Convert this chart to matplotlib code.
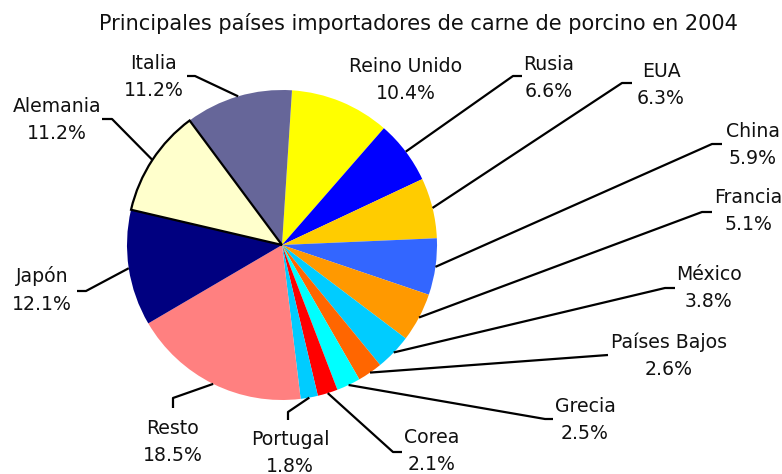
import matplotlib.pyplot as plt
import numpy as np

# Data (clockwise from the top)
paises = ['Reino Unido', 'Rusia', 'EUA', 'China', 'Francia', 'México',
          'Países Bajos', 'Grecia', 'Corea', 'Portugal', 'Resto', 'Japón',
          'Alemania', 'Italia']
porcentajes = [10.4, 6.6, 6.3, 5.9, 5.1, 3.8, 2.6, 2.5, 2.1, 1.8, 18.5, 12.1, 11.2, 11.2]
colores = ['#FFFF00', '#0000FF', '#FFCC00', '#3366FF', '#FF9900', '#00CCFF',
           '#FF6600', '#00FFFF', '#FF0000', '#00CCFF', '#FF8080', '#000080',
           '#FFFFCC', '#666699']

W, H = 782, 474

# label centres and leader elbows/ends in image pixels (y down)
label_pos = {
    'Reino Unido': (406, 80), 'Rusia': (549, 78), 'EUA': (661, 85),
    'China': (753, 145), 'Francia': (748, 211), 'México': (709, 288),
    'Países Bajos': (669, 356), 'Grecia': (585, 420), 'Corea': (432, 451),
    'Portugal': (290, 453), 'Resto': (173, 442), 'Japón': (42, 290),
    'Alemania': (57, 120), 'Italia': (154, 77),
}
leader = {
    'Rusia': [(513, 76), (522, 76)],
    'EUA': [(622, 83), (632, 83)],
    'China': [(712, 144), (722, 144)],
    'Francia': [(702, 212), (712, 212)],
    'México': [(665, 288), (675, 288)],
    'Países Bajos': [(608, 355)],
    'Grecia': [(545, 419), (553, 419)],
    'Corea': [(393, 452), (402, 452)],
    'Portugal': [(288, 412), (288, 420)],
    'Resto': [(173, 398), (173, 408)],
    'Japón': [(86, 291), (77, 291)],
    'Alemania': [(112, 119), (102, 119)],
    'Italia': [(195, 76), (187, 76)],
}

def fy(y):
    return H - y

fig = plt.figure(figsize=(W / 100, H / 100), dpi=100)
ax = fig.add_axes([0, 0, 1, 1])

explode = [0.025 if p == 'Alemania' else 0 for p in paises]
wedges, _ = ax.pie(porcentajes, colors=colores, startangle=86.3, counterclock=False,
                   center=(282, fy(245)), radius=155, explode=explode,
                   wedgeprops=dict(linewidth=0))
for w, p in zip(wedges, paises):
    if p == 'Alemania':
        w.set_edgecolor('black')
        w.set_linewidth(1.6)
        w.set_zorder(3)

ax.set_xlim(0, W)
ax.set_ylim(0, H)
ax.axis('off')

for w, p, v in zip(wedges, paises, porcentajes):
    mid = np.deg2rad((w.theta1 + w.theta2) / 2)
    cx, cy = w.center
    x0 = cx + w.r * np.cos(mid)
    y0 = cy + w.r * np.sin(mid)
    if p in leader:
        xs = [x0] + [q[0] for q in leader[p]]
        ys = [y0] + [fy(q[1]) for q in leader[p]]
        ax.plot(xs, ys, color='black', lw=1.6, solid_capstyle='butt', zorder=4)
    lx, ly = label_pos[p]
    ax.text(lx, fy(ly), f'{p}\n{v:.1f}%', ha='center', va='center',
            fontsize=13.6, linespacing=1.55, color='#111111')

fig.text(418 / W, 1 - 23 / H, 'Principales países importadores de carne de porcino en 2004',
         ha='center', va='center', fontsize=15, color='#111111')

fig.savefig('out.png', dpi=100)
